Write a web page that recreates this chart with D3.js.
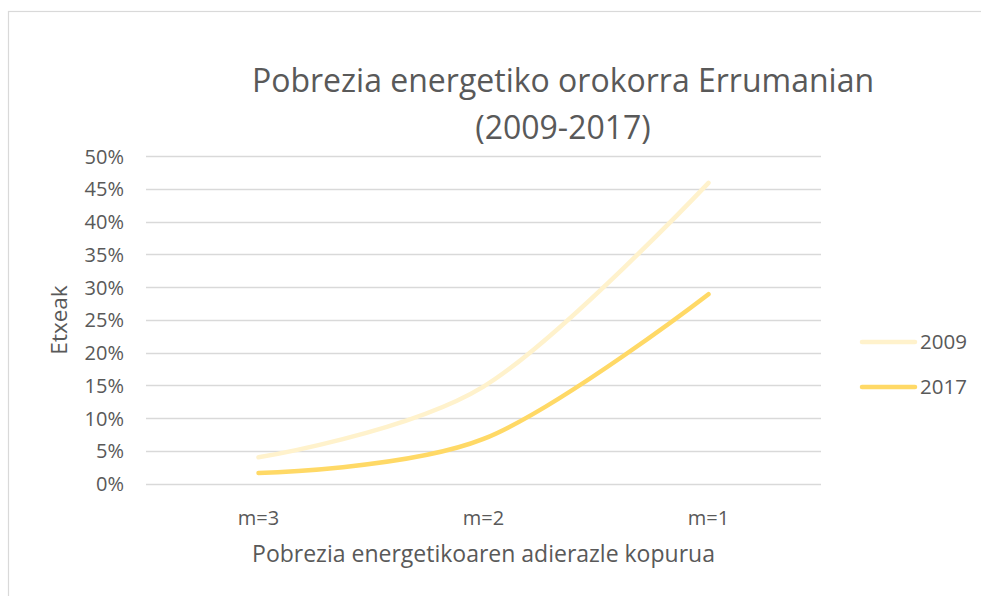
<!DOCTYPE html>
<html>
<head>
<meta charset="utf-8">
<script src="https://cdn.jsdelivr.net/npm/d3@7"></script>
<style>
  html, body { margin: 0; padding: 0; background: #fff; }
  svg { display: block; }
  text { font-family: "Open Sans", Lato, sans-serif; fill: #595959; }
</style>
</head>
<body>
<div id="chart"></div>
<script>
const categories = ["m=3", "m=2", "m=1"];
const seriesNames = ["2009", "2017"];
const values2009 = [0.040, 0.148, 0.459];
const values2017 = [0.016, 0.068, 0.289];
const yTicks = [0, 0.05, 0.10, 0.15, 0.20, 0.25, 0.30, 0.35, 0.40, 0.45, 0.50];
const titleLines = ["Pobrezia energetiko orokorra Errumanian", "(2009-2017)"];
const xTitle = "Pobrezia energetikoaren adierazle kopurua";
const yTitle = "Etxeak";
const colors = ["#FFF2CC", "#FFD966"];

const W = 981, H = 596;
const plot = { left: 146, right: 821, top: 156, bottom: 483.5 };
const FONT = "'Open Sans', Lato, sans-serif";

const svg = d3.select("#chart").append("svg").attr("width", W).attr("height", H);
svg.append("rect").attr("width", W).attr("height", H).attr("fill", "#fff");
svg.append("rect").attr("x", 8.5).attr("y", 11.5).attr("width", 1200).attr("height", 900)
  .attr("fill", "none").attr("stroke", "#D9D9D9").attr("stroke-width", 1.2);

const x = d3.scaleBand().domain(categories).range([plot.left, plot.right]).padding(0);
const y = d3.scaleLinear().domain([0, 0.5]).range([plot.bottom, plot.top]);
const cx = c => x(c) + x.bandwidth() / 2;

// gridlines
svg.append("g").selectAll("line").data(yTicks).join("line")
  .attr("x1", plot.left).attr("x2", plot.right)
  .attr("y1", d => Math.round(y(d)) + 0.5).attr("y2", d => Math.round(y(d)) + 0.5)
  .attr("stroke", "#D9D9D9").attr("stroke-width", 1.3);

// y axis
const yAxis = d3.axisLeft(y).tickValues(yTicks).tickFormat(d3.format(".0%")).tickSize(0).tickPadding(0);
const gy = svg.append("g").attr("transform", `translate(124,0)`).call(yAxis);
gy.select(".domain").remove();
gy.selectAll("text").attr("font-size", 20).attr("font-family", FONT).attr("fill", "#595959").attr("dy", "0.36em");

// x axis
const xAxis = d3.axisBottom(x).tickSize(0).tickPadding(0);
const gx = svg.append("g").attr("transform", `translate(0,511)`).call(xAxis);
gx.select(".domain").remove();
gx.selectAll("text").attr("font-size", 20).attr("font-family", FONT).attr("fill", "#595959");

// lines
const line = d3.line().x((d, i) => cx(categories[i])).y(d => y(d)).curve(d3.curveCardinal.tension(0));
const allSeries = [values2009, values2017];
svg.append("g").selectAll("path").data(allSeries).join("path")
  .attr("d", d => line(d))
  .attr("fill", "none")
  .attr("stroke", (d, i) => colors[i])
  .attr("stroke-width", 4.5)
  .attr("stroke-linecap", "round")
  .attr("stroke-linejoin", "round");

// title
svg.append("text").attr("text-anchor", "middle").attr("font-size", 32)
  .selectAll("tspan").data(titleLines).join("tspan")
  .attr("x", 563).attr("y", (d, i) => 92 + i * 47).text(d => d);

// axis titles
svg.append("text").attr("x", cx("m=2")).attr("y", 562).attr("text-anchor", "middle")
  .attr("font-size", 23).text(xTitle);
svg.append("text").attr("transform", "translate(67,320) rotate(-90)").attr("text-anchor", "middle")
  .attr("font-size", 22.5).text(yTitle);

// legend
const leg = svg.append("g").selectAll("g").data(seriesNames).join("g")
  .attr("transform", (d, i) => `translate(0,${342 + i * 45})`);
leg.append("line").attr("x1", 862).attr("x2", 915).attr("y1", 0).attr("y2", 0)
  .attr("stroke", (d, i) => colors[i]).attr("stroke-width", 4.5).attr("stroke-linecap", "round");
leg.append("text").attr("x", 920).attr("y", 7).attr("font-size", 20.5).text(d => d);
</script>
</body>
</html>
